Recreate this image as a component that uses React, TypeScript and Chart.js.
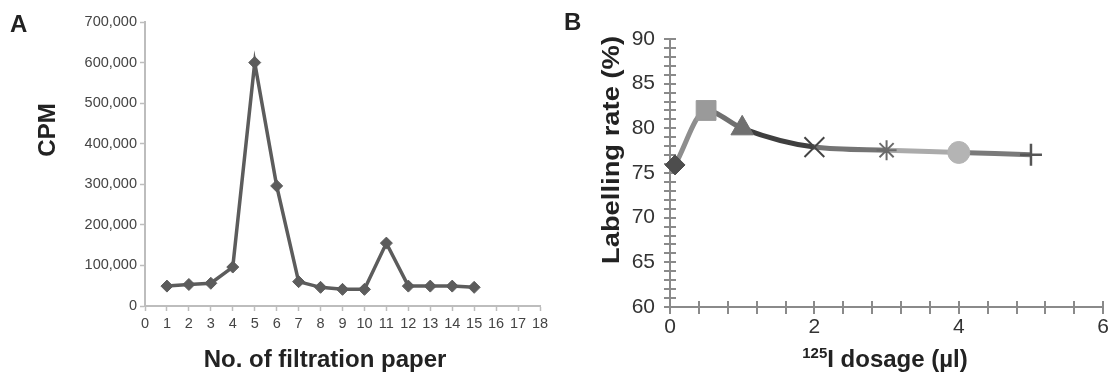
import React, { useEffect, useRef } from "react";
import { Chart, registerables } from "chart.js";

Chart.register(...registerables);

const FONT = '"Liberation Sans", Arial, Helvetica, sans-serif';

// ---------- Panel A data ----------
const filtrationPaperNo = [1, 2, 3, 4, 5, 6, 7, 8, 9, 10, 11, 12, 13, 14, 15];
const cpmValues = [49000, 53000, 56000, 96000, 600000, 296000, 60000, 46000, 41000, 41000, 155000, 49000, 49000, 49000, 46000];
const cpmAxisMax = 700000;
const cpmAxisStep = 100000;
const paperAxisMax = 18;

// ---------- Panel B data ----------
const dosageUl = [0.07, 0.5, 1, 2, 3, 4, 5];
const labellingRate = [75.9, 82.0, 80.0, 77.9, 77.55, 77.3, 77.05];
const rateAxisMin = 60;
const rateAxisMax = 90;
const rateLabelEvery = 5;
const dosageAxisMax = 6;
const dosageLabelEvery = 2;

// marker / segment styling for panel B
const markerStyles = ["rectRot", "rect", "triangle", "crossRot", "star", "circle", "cross"];
const markerRadius = [10, 14, 13, 14, 10, 11, 11];
const markerFill = ["#4d4d4d", "#9a9a9a", "#707070", "#444444", "#6a6a6a", "#b4b4b4", "#555555"];
const markerBorderWidth = [1, 1, 1, 2, 2, 1, 2.5];
const segmentColors = ["#8e8e8e", "#707070", "#3f3f3f", "#747474", "#ababab", "#7a7a7a"];

const crossTicksPlugin = {
  id: "crossTicks",
  beforeDatasetsDraw(chart: any) {
    const { ctx, chartArea } = chart;
    const xs = chart.scales.x;
    const ys = chart.scales.y;
    ctx.save();
    ctx.strokeStyle = "#8a8a8a";
    ctx.lineWidth = 2;
    ctx.beginPath();
    ys.ticks.forEach((t: any) => {
      const py = Math.round(ys.getPixelForValue(t.value));
      ctx.moveTo(chartArea.left - 6, py);
      ctx.lineTo(chartArea.left + 6, py);
    });
    xs.ticks.forEach((t: any) => {
      const px = Math.round(xs.getPixelForValue(t.value));
      ctx.moveTo(px, chartArea.bottom - 6);
      ctx.lineTo(px, chartArea.bottom + 7);
    });
    ctx.stroke();
    ctx.restore();
  },
};

function Vertical({ cx, cy, text, stretch = 1 }: { cx: number; cy: number; text: string; stretch?: number }) {
  return (
    <div
      style={{
        position: "absolute",
        left: cx,
        top: cy,
        transform: `translate(-50%,-50%) rotate(-90deg) scaleX(${stretch})`,
        whiteSpace: "nowrap",
        fontWeight: "bold",
        fontSize: 24,
        lineHeight: 1,
        color: "#222",
      }}
    >
      {text}
    </div>
  );
}

export default function App() {
  const refA = useRef<HTMLCanvasElement>(null);
  const refB = useRef<HTMLCanvasElement>(null);

  useEffect(() => {
    const chartA = new Chart(refA.current as HTMLCanvasElement, {
      type: "line",
      data: {
        datasets: [
          {
            data: filtrationPaperNo.map((x, i) => ({ x, y: cpmValues[i] })),
            borderColor: "#5c5c5c",
            backgroundColor: "#5c5c5c",
            borderWidth: 3.5,
            pointStyle: "rectRot",
            pointRadius: 6,
            pointBorderWidth: 1,
            pointBackgroundColor: "#5c5c5c",
            pointBorderColor: "#5c5c5c",
            tension: 0,
            clip: false as any,
          },
        ],
      },
      options: {
        responsive: false,
        animation: false,
        layout: { padding: { left: 0, top: 22, right: 20, bottom: 0 } },
        plugins: { legend: { display: false }, tooltip: { enabled: false } },
        scales: {
          x: {
            type: "linear",
            min: 0,
            max: paperAxisMax,
            afterFit: (s: any) => {
              s.height = 79;
            },
            grid: { drawOnChartArea: false, tickLength: 5, tickColor: "#bdbdbd", tickWidth: 1.5 },
            border: { color: "#bdbdbd", width: 2 },
            ticks: {
              stepSize: 1,
              autoSkip: false,
              maxRotation: 0,
              padding: 4,
              color: "#444",
              font: { family: FONT, size: 14.5 },
            },
          },
          y: {
            min: 0,
            max: cpmAxisMax,
            afterFit: (s: any) => {
              s.width = 145;
            },
            grid: { drawOnChartArea: false, tickLength: 5, tickColor: "#bdbdbd", tickWidth: 1.5 },
            border: { color: "#bdbdbd", width: 2 },
            ticks: {
              stepSize: cpmAxisStep,
              padding: 3,
              color: "#444",
              font: { family: FONT, size: 14.5 },
              callback: (v: any) => Number(v).toLocaleString("en-US"),
            },
          },
        },
      },
    } as any);

    const chartB = new Chart(refB.current as HTMLCanvasElement, {
      type: "line",
      data: {
        datasets: [
          {
            data: dosageUl.map((x, i) => ({ x, y: labellingRate[i] })),
            borderWidth: 5,
            borderColor: "#777",
            segment: {
              borderColor: (ctx: any) => segmentColors[ctx.p0DataIndex],
            },
            cubicInterpolationMode: "monotone",
            pointStyle: markerStyles as any,
            pointRadius: markerRadius,
            pointBackgroundColor: markerFill,
            pointBorderColor: markerFill,
            pointBorderWidth: markerBorderWidth,
            clip: false as any,
          },
        ],
      },
      options: {
        responsive: false,
        animation: false,
        layout: { padding: { left: 0, top: 39, right: 11, bottom: 0 } },
        plugins: { legend: { display: false }, tooltip: { enabled: false } },
        scales: {
          x: {
            type: "linear",
            min: 0,
            max: dosageAxisMax,
            afterFit: (s: any) => {
              s.height = 78;
            },
            grid: { drawOnChartArea: false, drawTicks: false },
            border: { color: "#8a8a8a", width: 2 },
            ticks: {
              stepSize: 0.4,
              autoSkip: false,
              maxRotation: 0,
              padding: 8,
              color: "#333",
              font: { family: FONT, size: 21 },
              callback: (v: any) => {
                const n = Number(v);
                const k = Math.round(n / dosageLabelEvery);
                return Math.abs(n - k * dosageLabelEvery) < 1e-6 ? String(k * dosageLabelEvery) : "";
              },
            },
          },
          y: {
            min: rateAxisMin,
            max: rateAxisMax,
            afterFit: (s: any) => {
              s.width = 110;
            },
            grid: { drawOnChartArea: false, drawTicks: false },
            border: { color: "#8a8a8a", width: 2 },
            ticks: {
              stepSize: 1,
              autoSkip: false,
              padding: 15,
              color: "#333",
              font: { family: FONT, size: 21 },
              callback: (v: any) => (Number(v) % rateLabelEvery === 0 ? String(v) : ""),
            },
          },
        },
      },
      plugins: [crossTicksPlugin],
    } as any);

    return () => {
      chartA.destroy();
      chartB.destroy();
    };
  }, []);

  return (
    <div
      style={{
        position: "absolute",
        left: 0,
        top: 0,
        width: 1117,
        height: 385,
        background: "#fff",
        overflow: "hidden",
        fontFamily: FONT,
      }}
    >
      <canvas
        ref={refA}
        width={560}
        height={385}
        style={{ position: "absolute", left: 0, top: 0, width: 560, height: 385 }}
      />
      <canvas
        ref={refB}
        width={557}
        height={385}
        style={{ position: "absolute", left: 560, top: 0, width: 557, height: 385 }}
      />
      <div style={{ position: "absolute", left: 10, top: 12, fontWeight: "bold", fontSize: 24, lineHeight: 1, color: "#222" }}>A</div>
      <div style={{ position: "absolute", left: 564, top: 10, fontWeight: "bold", fontSize: 24, lineHeight: 1, color: "#222" }}>B</div>
      <Vertical cx={47} cy={130} text="CPM" />
      <Vertical cx={611} cy={150} text="Labelling rate (%)" stretch={1.14} />
      <div
        style={{
          position: "absolute",
          left: 325,
          top: 347,
          transform: "translateX(-50%)",
          whiteSpace: "nowrap",
          fontWeight: "bold",
          fontSize: 24,
          lineHeight: 1,
          color: "#222",
        }}
      >
        No. of filtration paper
      </div>
      <div
        style={{
          position: "absolute",
          left: 885,
          top: 347,
          transform: "translateX(-50%)",
          whiteSpace: "nowrap",
          fontWeight: "bold",
          fontSize: 24,
          lineHeight: 1,
          color: "#222",
        }}
      >
        <span style={{ fontSize: 15, position: "relative", top: -9 }}>125</span>I dosage (µl)
      </div>
    </div>
  );
}
